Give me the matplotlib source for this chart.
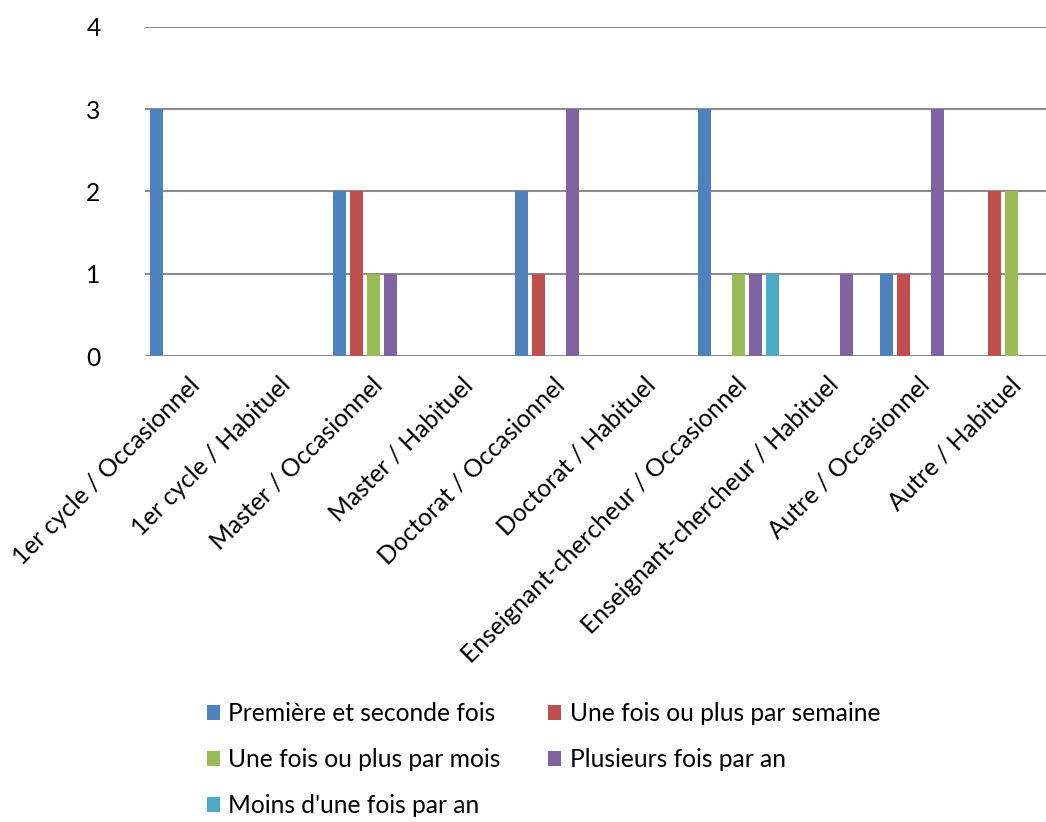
import matplotlib
matplotlib.use("Agg")
import matplotlib.pyplot as plt
import numpy as np

categories = ["1er cycle / Occasionnel", "1er cycle / Habituel", "Master / Occasionnel",
              "Master / Habituel", "Doctorat / Occasionnel", "Doctorat / Habituel",
              "Enseignant-chercheur / Occasionnel", "Enseignant-chercheur / Habituel",
              "Autre / Occasionnel", "Autre / Habituel"]
series_names = ["Première et seconde fois", "Une fois ou plus par semaine",
                "Une fois ou plus par mois", "Plusieurs fois par an",
                "Moins d'une fois par an"]
premiere = [3, 0, 2, 0, 2, 0, 3, 0, 1, 0]
semaine = [0, 0, 2, 0, 1, 0, 0, 0, 1, 2]
mois = [0, 0, 1, 0, 0, 0, 1, 0, 0, 2]
plusieurs = [0, 0, 1, 0, 3, 0, 1, 1, 3, 0]
moins = [0, 0, 0, 0, 0, 0, 1, 0, 0, 0]
yticks = [0, 1, 2, 3, 4]
colors = ["#4F81BD", "#C0504D", "#9BBB59", "#8064A2", "#4BACC6"]

plt.rcParams['font.family'] = ['Lato', 'DejaVu Sans']
FS = 17.7

W, H = 1046, 822
fig = plt.figure(figsize=(W / 100, H / 100), dpi=100)
left, right = 145, 1057.5
top, bottom = 26.7, 356
ax = fig.add_axes([left / W, 1 - bottom / H, (right - left) / W, (bottom - top) / H])

data = [premiere, semaine, mois, plusieurs, moins]
x = np.arange(len(categories))
step = 17 / 91.25
bw = 13 / 91.25
handles = []
for j, (vals, c, name) in enumerate(zip(data, colors, series_names)):
    h = ax.bar(x + (j - 2) * step, vals, width=bw, color=c, label=name, zorder=3)
    handles.append(h)

ax.set_xlim(-0.5, len(categories) - 0.5)
ax.set_ylim(0, 4)
ax.set_yticks(yticks)
ax.set_yticklabels([str(v) for v in yticks], fontsize=FS)
ax.yaxis.grid(True, color="#8c8c8c", linewidth=1.5, zorder=0)
ax.set_axisbelow(True)
for s in ax.spines.values():
    s.set_visible(False)
ax.tick_params(axis='y', length=0, pad=32)
ax.tick_params(axis='x', length=0)
ax.set_xticks(x)
ax.set_xticklabels([])
for xi, lab in zip(x, categories):
    ax.annotate(lab, xy=(xi, 0), xycoords=('data', 'axes fraction'),
                xytext=(-3, -17), textcoords='offset pixels',
                rotation=45, ha='right', va='top', rotation_mode='anchor',
                fontsize=FS)

order = [0, 2, 4, 1, 3]
leg = fig.legend([handles[i] for i in order], [series_names[i] for i in order],
                 ncol=2, loc='upper left', bbox_to_anchor=(207 / W, 1 - 702 / H),
                 frameon=False, fontsize=FS, handlelength=0.53, handleheight=0.53,
                 handletextpad=0.33, columnspacing=1.95, labelspacing=0.94,
                 borderaxespad=0, borderpad=0)

fig.savefig("out.png", dpi=100)
